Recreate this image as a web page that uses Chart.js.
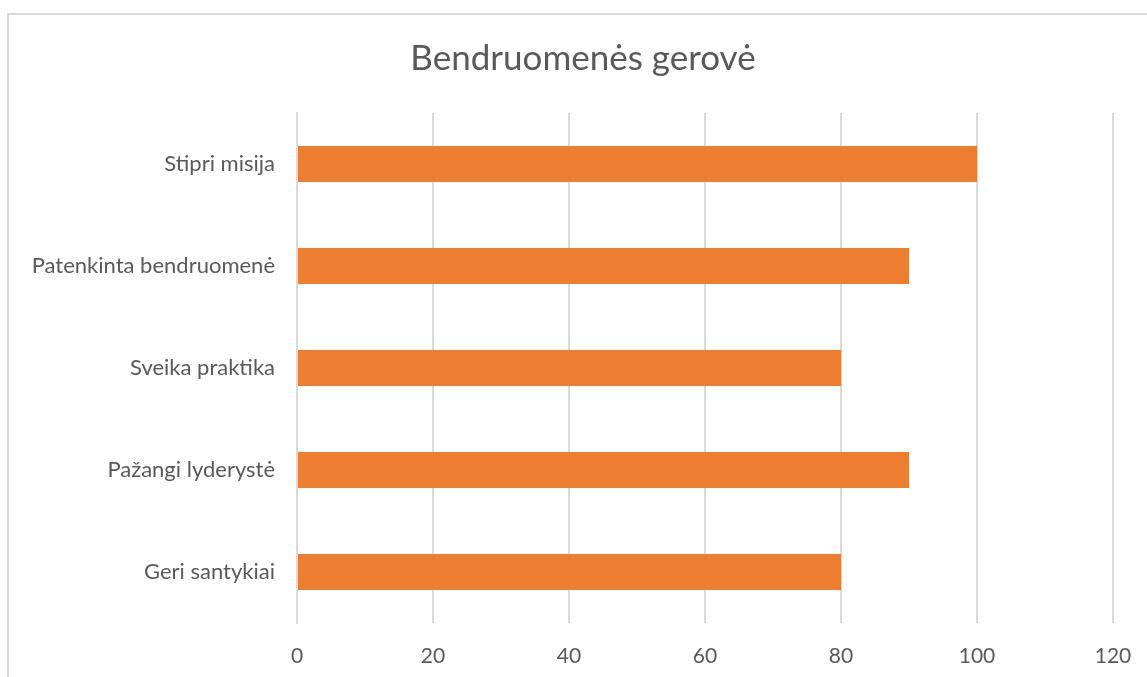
<!DOCTYPE html>
<html>
<head>
<meta charset="utf-8">
<script src="https://cdn.jsdelivr.net/npm/chart.js@4"></script>
<style>
  html, body { margin: 0; padding: 0; background: #fff; overflow: hidden; }
  #frame { position: absolute; left: 7px; top: 13px; width: 1200px; height: 720px; border: 2px solid #d9d9d9; box-sizing: border-box; }
  #wrap { position: absolute; left: 0; top: 0; width: 1147px; height: 677px; }
</style>
</head>
<body>
<div id="frame"></div>
<div id="wrap"><canvas id="c"></canvas></div>
<script>
const chartTitle = "Bendruomenės gerovė";
const categories = ["Stipri misija", "Patenkinta bendruomenė", "Sveika praktika", "Pažangi lyderystė", "Geri santykiai"];
const values = [100, 90, 80, 90, 80];
const xMin = 0, xMax = 120, xStep = 20;

const FONT = "Lato, 'Open Sans', sans-serif";
const TEXT = "#595959";
const GRID = "#d9d9d9";

const titlePlugin = {
  id: "offsetTitle",
  afterDraw(chart) {
    const ctx = chart.ctx;
    ctx.save();
    ctx.fillStyle = TEXT;
    ctx.font = "35px " + FONT;
    ctx.textAlign = "center";
    ctx.textBaseline = "middle";
    ctx.fillText(chartTitle, 583, 59);
    ctx.restore();
  }
};

new Chart(document.getElementById("c"), {
  type: "bar",
  data: {
    labels: categories,
    datasets: [{
      data: values,
      backgroundColor: "#ED7D31",
      borderWidth: 0,
      barPercentage: 0.353,
      categoryPercentage: 1.0
    }]
  },
  plugins: [titlePlugin],
  options: {
    indexAxis: "y",
    responsive: true,
    maintainAspectRatio: false,
    animation: false,
    layout: { padding: { left: 0, right: 34, top: 113, bottom: 0 } },
    plugins: {
      legend: { display: false },
      tooltip: { enabled: false },
      title: { display: false }
    },
    scales: {
      x: {
        min: xMin, max: xMax,
        ticks: { stepSize: xStep, color: TEXT, font: { family: FONT, size: 21 }, padding: 21 },
        grid: { color: GRID, lineWidth: 2, drawTicks: false },
        border: { display: false },
        afterFit: (s) => { s.height = 54; s.paddingLeft = 0; s.paddingRight = 0; }
      },
      y: {
        ticks: { color: TEXT, font: { family: FONT, size: 22 }, padding: 22 },
        grid: { display: false, drawTicks: false },
        border: { display: true, color: GRID, width: 2 },
        afterFit: (s) => { s.width = 297; s.paddingTop = 0; s.paddingBottom = 0; }
      }
    }
  }
});
</script>
</body>
</html>
